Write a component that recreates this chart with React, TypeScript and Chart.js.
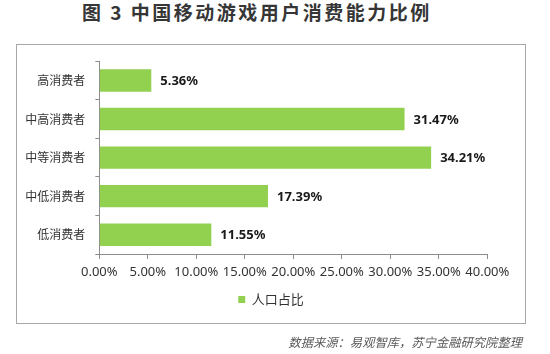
import React, { useEffect, useRef } from "react";
import { Chart, registerables } from "chart.js";

Chart.register(...registerables);

const titleText = "图 3 中国移动游戏用户消费能力比例";
const sourceText = "数据来源：易观智库，苏宁金融研究院整理";
const seriesLabel = "人口占比";
const categories = ["高消费者", "中高消费者", "中等消费者", "中低消费者", "低消费者"];
const values = [5.36, 31.47, 34.21, 17.39, 11.55];
const xMin = 0;
const xMax = 40;
const xStep = 5;

const GREEN = "#92D050";
const AXIS = "#8c8c8c";

const valueLabels = {
  id: "valueLabels",
  afterDatasetsDraw(chart: any) {
    const ctx = chart.ctx;
    const meta = chart.getDatasetMeta(0);
    const data = chart.data.datasets[0].data as number[];
    ctx.save();
    ctx.font = 'bold 13px "Noto Sans"';
    ctx.fillStyle = "#1a1a1a";
    ctx.textBaseline = "middle";
    ctx.textAlign = "left";
    meta.data.forEach((bar: any, i: number) => {
      ctx.fillText(data[i].toFixed(2) + "%", bar.x + 9, bar.y + 1);
    });
    ctx.restore();
  },
};

export default function App() {
  const ref = useRef<HTMLCanvasElement>(null);

  useEffect(() => {
    if (!ref.current) return;
    const chart = new Chart(ref.current, {
      type: "bar",
      data: {
        labels: categories,
        datasets: [
          {
            label: seriesLabel,
            data: values,
            backgroundColor: GREEN,
            borderWidth: 0,
            categoryPercentage: 1,
            barPercentage: 0.58,
          },
        ],
      },
      options: {
        indexAxis: "y",
        animation: false,
        responsive: false,
        layout: { padding: { top: 13, left: 0, right: 0, bottom: 8 } },
        scales: {
          x: {
            type: "linear",
            min: xMin,
            max: xMax,
            ticks: {
              stepSize: xStep,
              padding: 5,
              maxRotation: 0,
              minRotation: 0,
              autoSkip: false,
              color: "#333",
              font: { family: "Noto Sans", size: 13 },
              callback: (v: any) => Number(v).toFixed(2) + "%",
            },
            grid: {
              display: true,
              drawOnChartArea: false,
              drawTicks: true,
              tickLength: 5,
              color: AXIS,
            },
            border: { display: true, color: AXIS },
            afterFit: (s: any) => {
              s.height = 29;
            },
          },
          y: {
            type: "category",
            ticks: {
              padding: 10,
              color: "#333",
              font: { family: "Noto Sans CJK SC", size: 12 },
            },
            grid: {
              display: true,
              drawOnChartArea: false,
              drawTicks: true,
              tickLength: 4,
              color: AXIS,
              offset: true,
            },
            border: { display: true, color: AXIS },
            afterFit: (s: any) => {
              s.width = 83.3;
            },
          },
          y2: {
            type: "linear",
            position: "right",
            display: true,
            ticks: { display: false },
            grid: { display: false },
            border: { display: false },
            afterFit: (s: any) => {
              s.width = 38.7;
            },
          },
        },
        plugins: {
          title: { display: false },
          tooltip: { enabled: false },
          legend: {
            display: true,
            position: "bottom",
            labels: {
              boxWidth: 7,
              boxHeight: 7,
              padding: 10,
              color: "#333",
              font: { family: "Noto Sans CJK SC", size: 13 },
            },
          },
        },
      },
      plugins: [valueLabels],
    });
    return () => chart.destroy();
  }, []);

  return (
    <div style={{ position: "absolute", left: 0, top: 0, width: 550, height: 354, background: "#fff", overflow: "hidden" }}>
      <div
        style={{
          position: "absolute",
          left: 82,
          top: 1,
          lineHeight: "22px",
          fontSize: 19,
          fontWeight: 700,
          letterSpacing: "2.5px",
          whiteSpace: "nowrap",
          color: "#363636",
          fontFamily: '"Noto Sans CJK SC", sans-serif',
        }}
      >
        {titleText}
      </div>
      <canvas
        ref={ref}
        width={510}
        height={280}
        style={{ position: "absolute", left: 16, top: 44, width: 510, height: 280 }}
      />
      <div
        style={{
          position: "absolute",
          left: 16,
          top: 44,
          width: 510,
          height: 280,
          boxSizing: "border-box",
          border: "1px solid #a8a8a8",
          pointerEvents: "none",
        }}
      />
      <div
        style={{
          position: "absolute",
          right: 28,
          top: 334,
          lineHeight: "16px",
          fontSize: 12.3,
          fontStyle: "italic",
          whiteSpace: "nowrap",
          color: "#595959",
          fontFamily: '"Noto Sans CJK SC", sans-serif',
        }}
      >
        {sourceText}
      </div>
    </div>
  );
}
